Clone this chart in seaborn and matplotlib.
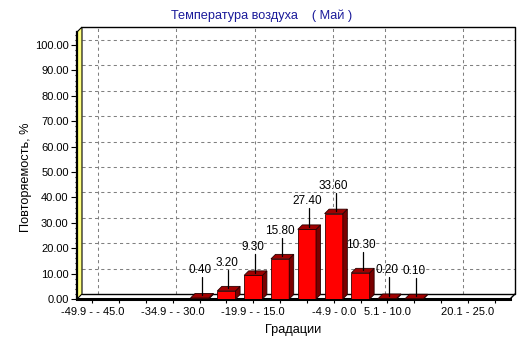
import numpy as np
import pandas as pd
import matplotlib
matplotlib.use("Agg")
import matplotlib.pyplot as plt
from matplotlib.patches import Polygon
from matplotlib.ticker import MultipleLocator, FormatStrFormatter
import seaborn as sns

# Temperature gradations (°C) and their frequency of occurrence, %
categories = [
    "-49.9 - - 45.0", "-44.9 - - 40.0", "-39.9 - - 35.0", "-34.9 - - 30.0",
    "-29.9 - - 25.0", "-24.9 - - 20.0", "-19.9 - - 15.0", "-14.9 - - 10.0",
    "-9.9 - - 5.0", "-4.9 - 0.0", "0.1 - 5.0", "5.1 - 10.0",
    "10.1 - 15.0", "15.1 - 20.0", "20.1 - 25.0", "25.1 - 30.0",
]
values = [0, 0, 0, 0, 0.40, 3.20, 9.30, 15.80, 27.40, 33.60, 10.30, 0.20, 0.10, 0, 0, 0]
labelled_categories = ["-49.9 - - 45.0", "-34.9 - - 30.0", "-19.9 - - 15.0",
                       "-4.9 - 0.0", "5.1 - 10.0", "20.1 - 25.0"]

title = "Температура воздуха    ( Май )"
ylabel = "Повторяемость, %"
xlabel = "Градации"

sns.set_theme(style="white")
plt.rcParams["font.family"] = ["Liberation Sans", "DejaVu Sans"]

W, H = 532, 343
fig = plt.figure(figsize=(W / 100, H / 100), dpi=100)
fig.patch.set_facecolor("white")

# front plane of the 3D box (pixels from the top-left)
L, R, T, B = 77, 510, 32, 299
ax = fig.add_axes([L / W, 1 - B / H, (R - L) / W, (B - T) / H])
ax.set_facecolor("none")

df = pd.DataFrame({"cat": categories, "val": values})
bar_w = 0.68
sns.barplot(data=df, x="cat", y="val", order=categories, color="#FF0000",
            saturation=1, width=bar_w, edgecolor="#3a0000", linewidth=0.6,
            ax=ax, zorder=3)

n = len(categories)
pad = 2 / 26.8
ax.set_xlim(-0.5 - pad, n - 0.5 + pad)
ax.set_ylim(0, (B - T) / 2.54)

for s in ["top", "right"]:
    ax.spines[s].set_visible(False)
ax.spines["left"].set_linewidth(1.6)
ax.spines["left"].set_color("black")
ax.spines["bottom"].set_linewidth(2.2)
ax.spines["bottom"].set_color("black")

ax.yaxis.set_major_locator(MultipleLocator(10))
ax.yaxis.set_minor_locator(MultipleLocator(2))
ax.yaxis.set_major_formatter(FormatStrFormatter("%.2f"))
ax.set_yticks(np.arange(0, 101, 10))
ax.tick_params(axis="y", which="major", length=4, width=0.8, pad=2,
               labelsize=8, colors="black", left=True, direction="out")
ax.tick_params(axis="y", which="minor", length=1.8, width=0.8, left=True,
               direction="out", colors="black")

ax.set_xticks(range(n))
ax.set_xticklabels([c if c in labelled_categories else "" for c in categories])
ax.tick_params(axis="x", which="major", length=3, width=0.8, pad=3,
               labelsize=8, colors="black", bottom=True, direction="out")
ax.set_xlabel("")
ax.set_ylabel("")

# depth of the 3D box and of the bars, in pixels
D = 5
bd = 4.5
to_px = ax.transData.transform
to_data = ax.transData.inverted().transform


def shift(x, y, dx=0.0, dy=0.0):
    p = to_px((x, y)) + np.array([dx, dy])
    return to_data(p)


x0, x1 = ax.get_xlim()
y0, y1 = ax.get_ylim()

# back wall grid (the back wall is drawn slightly narrower than the front plane)
back_scale = 0.973
back_shift = 5.6
origin_px = to_px((0, 0))[0]


def back_x(i):
    px = to_px((i, 0))[0]
    return origin_px + back_shift + (px - origin_px) * back_scale


grid_kw = dict(color="#808080", lw=0.75, ls=(0, (3, 3)), zorder=1, clip_on=False)
for yv in np.arange(10, 101, 10):
    a, b = shift(x0, yv, D, D), shift(x1, yv, D, D)
    ax.plot([a[0], b[0]], [a[1], b[1]], **grid_kw)
for c in labelled_categories:
    i = categories.index(c)
    bx = back_x(i)
    ya = to_px((0, y0))[1] + D
    yb = to_px((0, y1))[1] + D
    a, b = to_data((bx, ya)), to_data((bx, yb))
    ax.plot([a[0], b[0]], [a[1], b[1]], **grid_kw)

# box outline: top, right, back floor line and the floor's right edge
frame_kw = dict(color="black", lw=1.0, zorder=2, clip_on=False)
pts = [shift(x0, y1, D, D), shift(x1, y1, D, D), shift(x1, y0, D, D), shift(x0, y0, D, D)]
ax.plot([pts[0][0], pts[1][0], pts[2][0], pts[3][0]],
        [pts[0][1], pts[1][1], pts[2][1], pts[3][1]], **frame_kw)
fr = shift(x1, y0)
ax.plot([fr[0], pts[2][0]], [fr[1], pts[2][1]], **frame_kw)

# yellow left wall
wall = [shift(x0, y0), shift(x0, y0, D, D), shift(x0, y1, D, D), shift(x0, y1)]
ax.add_patch(Polygon(wall, closed=True, facecolor="#FFFF80", edgecolor="black",
                     lw=0.8, zorder=2, clip_on=False))

# 3D faces of the bars and value labels
for patch, v in zip(ax.patches, values):
    if v <= 0:
        continue
    xl = patch.get_x()
    xr = xl + patch.get_width()
    h = patch.get_height()
    top = [shift(xl, h), shift(xr, h), shift(xr, h, bd, bd), shift(xl, h, bd, bd)]
    side = [shift(xr, 0), shift(xr, h), shift(xr, h, bd, bd), shift(xr, 0, bd, bd)]
    ax.add_patch(Polygon(side, closed=True, facecolor="#7A0000", edgecolor="#2a0000",
                         lw=0.6, zorder=3.5, clip_on=False))
    ax.add_patch(Polygon(top, closed=True, facecolor="#A00000", edgecolor="#2a0000",
                         lw=0.6, zorder=3.6, clip_on=False))
    xc = xl + patch.get_width() / 2
    a, b = shift(xc, h, 2, 2.5), shift(xc, h, 2, 21)
    ax.plot([a[0], b[0]], [a[1], b[1]], color="black", lw=0.9, zorder=4, clip_on=False)
    t = shift(xc, h, 0, 28)
    ax.text(t[0], t[1], f"{v:.2f}", ha="center", va="center", fontsize=8.5,
            color="black", zorder=5)

fig.text(262 / W, 1 - 16 / H, title, ha="center", va="center", fontsize=9.2,
         color="#1a1a9a")
fig.text(26 / W, 1 - 177 / H, ylabel, ha="center", va="center", rotation=90,
         fontsize=9.2, color="black")
fig.text(293 / W, 1 - 330 / H, xlabel, ha="center", va="center", fontsize=9.2,
         color="black")

fig.savefig("out.png", dpi=100, facecolor="white")
